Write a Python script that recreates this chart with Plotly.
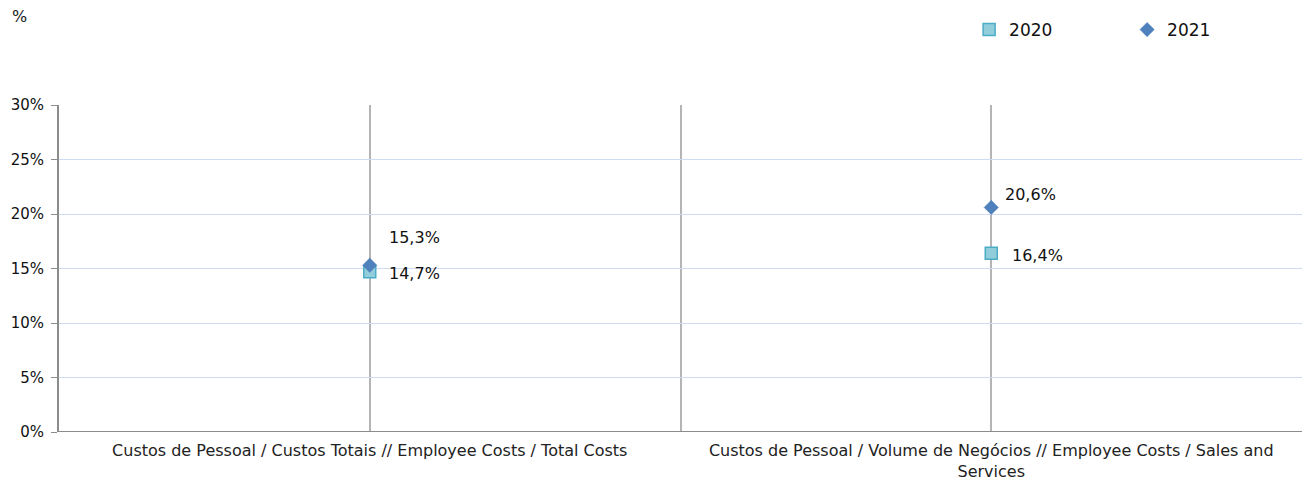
import plotly.graph_objects as go

categories = [
    "Custos de Pessoal / Custos Totais // Employee Costs / Total Costs",
    "Custos de Pessoal / Volume de Negócios // Employee Costs / Sales and<br>Services",
]
series_2020 = [14.7, 16.4]
series_2021 = [15.3, 20.6]
labels_2020 = ["14,7%", "16,4%"]
labels_2021 = ["15,3%", "20,6%"]
y_ticks = [0, 5, 10, 15, 20, 25, 30]
y_tick_labels = ["0%", "5%", "10%", "15%", "20%", "25%", "30%"]

xpos = list(range(len(categories)))
FONT = "DejaVu Sans"

fig = go.Figure()
fig.add_trace(go.Scatter(
    x=xpos, y=series_2020, mode="markers", name="2020",
    marker=dict(symbol="square", size=12, color="#92cddc",
                line=dict(color="#4bacc6", width=1.5)),
))
fig.add_trace(go.Scatter(
    x=xpos, y=series_2021, mode="markers", name="2021",
    marker=dict(symbol="diamond", size=11, color="#4f81bd",
                line=dict(color="#4f81bd", width=0.5)),
))

ann = []
label_style_2021 = [(17, 28), (12, 13)]
label_style_2020 = [(17, -2), (19, -2)]
for (x, y, t), (dx, dy) in zip(zip(xpos, series_2021, labels_2021), label_style_2021):
    ann.append(dict(x=x, y=y, text=t, xref="x", yref="y", showarrow=False,
                    xanchor="left", yanchor="middle", xshift=dx, yshift=dy,
                    font=dict(family=FONT, size=16, color="#111")))
for (x, y, t), (dx, dy) in zip(zip(xpos, series_2020, labels_2020), label_style_2020):
    ann.append(dict(x=x, y=y, text=t, xref="x", yref="y", showarrow=False,
                    xanchor="left", yanchor="middle", xshift=dx, yshift=dy,
                    font=dict(family=FONT, size=16, color="#111")))
ann.append(dict(x=-0.0395, y=1.305, xref="paper", yref="paper", text="%", showarrow=False,
                xanchor="left", yanchor="top",
                font=dict(family=FONT, size=16, color="#222")))

fig.update_layout(
    width=1306, height=481,
    margin=dict(l=59, r=4, t=105, b=49, autoexpand=False),
    paper_bgcolor="white", plot_bgcolor="white",
    font=dict(family=FONT, size=14, color="#222"),
    showlegend=True,
    legend=dict(orientation="h", x=0.7322, y=0.975, xanchor="left", yanchor="top",
                yref="container", entrywidth=113, entrywidthmode="pixels",
                itemwidth=30, font=dict(family=FONT, size=17, color="#111")),
    annotations=ann,
)
fig.update_xaxes(
    range=[-0.5, len(categories) - 0.5], tickvals=xpos, ticktext=categories,
    showgrid=True, gridcolor="#b4b4b4", gridwidth=1.5,
    showline=False, zeroline=False, ticks="", automargin=False,
    ticklabelstandoff=7,
    tickfont=dict(family=FONT, size=16, color="#222"),
    minor=dict(tickvals=[0.5, 1.5], showgrid=True, gridcolor="#b4b4b4", gridwidth=1.5, ticks=""),
)
fig.update_yaxes(
    range=[0, 30], tickvals=y_ticks, ticktext=y_tick_labels,
    showgrid=True, gridcolor="#cddcf2", gridwidth=1,
    showline=True, linecolor="#8c8c8c", linewidth=2,
    ticks="outside", ticklen=6, tickcolor="#8c8c8c", tickwidth=1,
    ticklabelstandoff=4, automargin=False,
    zeroline=False,
    tickfont=dict(family=FONT, size=15, color="#111"),
)
fig.add_hline(y=0, line=dict(color="#8c8c8c", width=2))

fig.write_html("out.html", config={"responsive": False, "displayModeBar": False})
with open("out.html", encoding="utf-8") as f:
    html = f.read()
html = html.replace("<body>", '<body style="margin:0;padding:0;overflow:hidden">', 1)
with open("out.html", "w", encoding="utf-8") as f:
    f.write(html)
